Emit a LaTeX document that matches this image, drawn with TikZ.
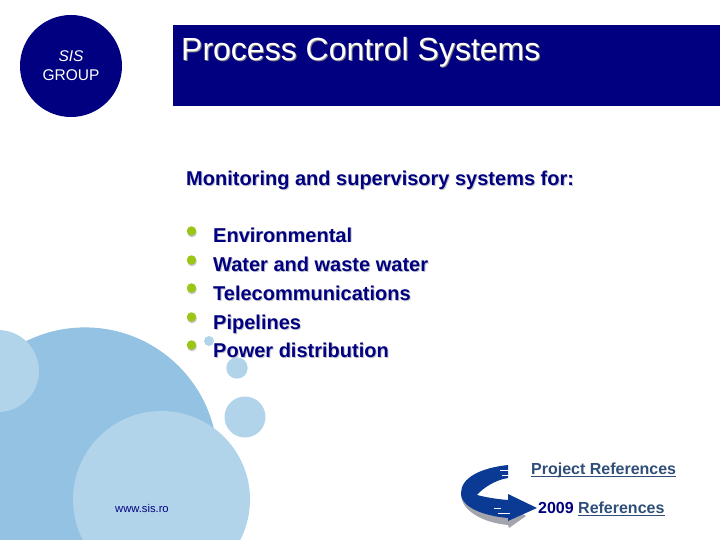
\documentclass[tikz,border=0pt]{standalone}
\usepackage{fontspec}
\setmainfont{Liberation Sans}
\definecolor{navy}{HTML}{000080}
\definecolor{bigblue}{HTML}{93C2E2}
\definecolor{lightblue}{HTML}{B1D4EA}
\definecolor{bulletgreen}{HTML}{9CC616}
\definecolor{linkblue}{HTML}{2F4F78}
\definecolor{shade}{HTML}{C4C4CC}
\definecolor{arrowshade}{HTML}{A4A4AC}
\definecolor{arrowblue}{HTML}{0A3A94}
\tikzset{
  x=1pt,y=-1pt,
  txt/.style={inner sep=0pt,anchor=base west,text=navy,font=\fontsize{20}{22}\selectfont\bfseries},
  txtshadow/.style={inner sep=0pt,anchor=base west,text=shade,font=\fontsize{20}{22}\selectfont\bfseries},
  bul/.style={circle,fill=bulletgreen,inner sep=0pt,minimum size=9.5pt},
  bulshadow/.style={circle,fill=shade,inner sep=0pt,minimum size=9.5pt},
  lnk/.style={inner sep=0pt,anchor=base west,text=linkblue,font=\fontsize{16}{18}\selectfont\bfseries},
}
\begin{document}
\begin{tikzpicture}
\useasboundingbox (0,0) rectangle (720,540);
\begin{scope}
\clip (0,0) rectangle (720,540);
\fill[bigblue] (85,460) circle[radius=132.6];
\fill[lightblue] (-2,371) circle[radius=41];
\fill[lightblue] (161.5,499.5) circle[radius=88.5];
\fill[lightblue] (245,417) circle[radius=20.5];
\fill[lightblue] (237,368) circle[radius=10.7];
\fill[lightblue] (209,341) circle[radius=5];
\end{scope}
% header
\fill[navy] (71,66) circle[radius=51];
\fill[navy] (173,25) rectangle (720,106);
\node[inner sep=0pt,anchor=base,text=white,font=\fontsize{15.5}{17}\selectfont\itshape] (sis) at (71,62) {SIS};
\node[inner sep=0pt,anchor=base,text=white,font=\fontsize{15.5}{17}\selectfont] (group) at (71,81) {GROUP};
\node[inner sep=0pt,anchor=base west,text=gray,font=\fontsize{32}{34}\selectfont] (titles) at (182,62) {Process Control Systems};
\node[inner sep=0pt,anchor=base west,text=white,font=\fontsize{32}{34}\selectfont] (title) at (181,61) {Process Control Systems};
% heading
\node[txtshadow] (heads) at (187,186.5) {Monitoring and supervisory systems for:};
\node[txt] (head) at (186,185.5) {Monitoring and supervisory systems for:};
% list
\foreach \n/\y/\t in {a/242/Environmental,b/271/Water and waste water,c/300/Telecommunications,d/329/Pipelines,e/357/Power distribution}{
  \node[txtshadow] (s\n) at (214,\y+1) {\t};
  \node[txt] (t\n) at (213,\y) {\t};
}
\foreach \n/\y in {a/231,b/260,c/288,d/317,e/345}{
  \node[bulshadow] (bs\n) at (192,\y+1.5) {};
  \node[bul] (b\n) at (191.5,\y) {};
}
% arrow shadow (lower limb only)
\fill[arrowshade] (461,495) .. controls (462,512) and (485,523) .. (508,525) -- (509,528) -- (526,516) -- (508,505) -- (470,495) -- cycle;
% arrow
\fill[arrowblue] (508,465) .. controls (480,468) and (461,478) .. (461,493)
  .. controls (461,508) and (485,516) .. (508,518) -- (508,521) -- (537,508) -- (508,494) -- (508,500)
  .. controls (495,499) and (485,497) .. (477,495) .. controls (483,488) and (495,480) .. (508,478) -- cycle;
\draw[white,line width=0.7pt] (500,470.5) -- (509,470.5) (502,475) -- (509,475) (494,508.5) -- (501,508.5) (498,513) -- (510,513);
% links
\node[lnk] (proj) at (531,474) {Project References};
\draw[linkblue,line width=1pt] (531,476) -- (676,476);
\node[inner sep=0pt,anchor=base west,text=navy,font=\fontsize{16}{18}\selectfont\bfseries] (yr) at (538,513) {2009};
\node[lnk] (refs) at (578,513) {References};
\draw[linkblue,line width=1pt] (578,515) -- (665,515);
\node[inner sep=0pt,anchor=base west,text=navy,font=\fontsize{11.2}{13}\selectfont] (url) at (115,512) {www.sis.ro};
\end{tikzpicture}
\end{document}
